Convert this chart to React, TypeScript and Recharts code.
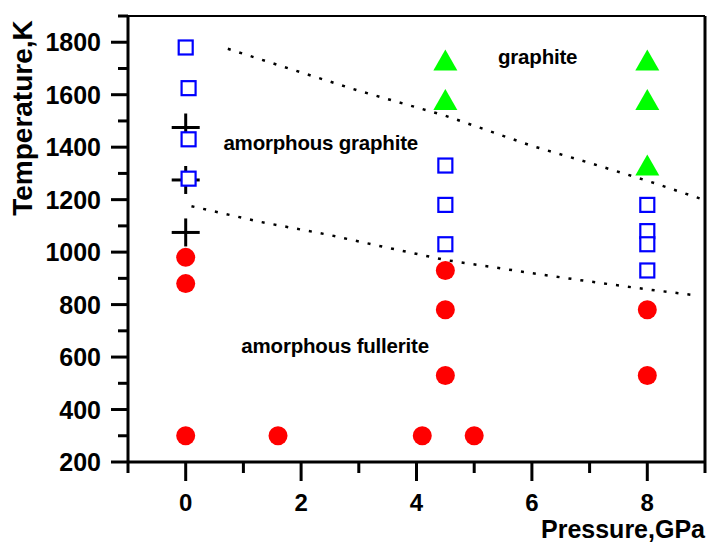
import { ScatterChart, Scatter, XAxis, YAxis, ReferenceLine } from "recharts";

// pressure (GPa), temperature (K)
const amorphousGraphite = [
  { p: 0, t: 1780 },
  { p: 0.05, t: 1625 },
  { p: 0.05, t: 1430 },
  { p: 0.05, t: 1280 },
  { p: 4.5, t: 1330 },
  { p: 4.5, t: 1180 },
  { p: 4.5, t: 1030 },
  { p: 8, t: 1180 },
  { p: 8, t: 1080 },
  { p: 8, t: 1030 },
  { p: 8, t: 930 },
];

const fullerite = [
  { p: 0, t: 980 },
  { p: 0, t: 880 },
  { p: 0, t: 300 },
  { p: 1.6, t: 300 },
  { p: 4.1, t: 300 },
  { p: 5, t: 300 },
  { p: 4.5, t: 930 },
  { p: 4.5, t: 780 },
  { p: 4.5, t: 530 },
  { p: 8, t: 780 },
  { p: 8, t: 530 },
];

const graphite = [
  { p: 4.5, t: 1730 },
  { p: 4.5, t: 1580 },
  { p: 8, t: 1730 },
  { p: 8, t: 1580 },
  { p: 8, t: 1330 },
];

const crosses = [
  { p: 0, t: 1475 },
  { p: 0, t: 1275 },
  { p: 0, t: 1075 },
];

const upperBoundary = [
  { p: 0.73, t: 1775 },
  { p: 2, t: 1685 },
  { p: 3, t: 1615 },
  { p: 4.5, t: 1520 },
  { p: 6, t: 1405 },
  { p: 7, t: 1340 },
  { p: 8, t: 1272 },
  { p: 9, t: 1198 },
];

const lowerBoundary = [
  { p: 0.1, t: 1175 },
  { p: 1.3, t: 1115 },
  { p: 2.5, t: 1065 },
  { p: 3.3, t: 1026 },
  { p: 4.5, t: 970 },
  { p: 6, t: 920 },
  { p: 7, t: 888 },
  { p: 8, t: 858 },
  { p: 8.85, t: 835 },
];

const annotations = [
  { p: 6.1, t: 1743, text: "graphite" },
  { p: 2.34, t: 1415, text: "amorphous graphite" },
  { p: 2.59, t: 642, text: "amorphous fullerite" },
];

const xTicks = [-1, 0, 1, 2, 3, 4, 5, 6, 7, 8, 9];
const yTicks = [200, 300, 400, 500, 600, 700, 800, 900, 1000, 1100, 1200, 1300, 1400, 1500, 1600, 1700, 1800, 1900];

const font = "'Liberation Sans', Arial, sans-serif";

const YTick = (props: any) => {
  const { x, y, payload } = props;
  const major = payload.value % 200 === 0 && payload.value <= 1800;
  const len = major ? 17 : 10;
  return (
    <g>
      <line x1={x} x2={x - len} y1={y} y2={y} stroke="#000" strokeWidth={3} />
      {major && (
        <text x={x - 27} y={y} dy="0.36em" textAnchor="end" fontFamily={font} fontWeight="bold" fontSize={25} fill="#000">
          {payload.value}
        </text>
      )}
    </g>
  );
};

const XTick = (props: any) => {
  const { x, y, payload } = props;
  const major = payload.value % 2 === 0;
  const len = major ? 19 : 11;
  return (
    <g>
      <line x1={x} x2={x} y1={y} y2={y + len} stroke="#000" strokeWidth={3} />
      {major && (
        <text x={x} y={y + 49} textAnchor="middle" fontFamily={font} fontWeight="bold" fontSize={24} fill="#000">
          {payload.value}
        </text>
      )}
    </g>
  );
};

const Square = (props: any) => (
  <rect x={props.cx - 7} y={props.cy - 7} width={14} height={14} fill="#fff" stroke="#0000ff" strokeWidth={2.2} />
);

const Dot = (props: any) => <circle cx={props.cx} cy={props.cy} r={9.5} fill="#ff0000" />;

const Triangle = (props: any) => {
  const { cx, cy } = props;
  return <polygon points={`${cx},${cy - 11} ${cx + 12},${cy + 10} ${cx - 12},${cy + 10}`} fill="#00ff00" />;
};

const Cross = (props: any) => {
  const { cx, cy } = props;
  return (
    <g stroke="#000" strokeWidth={3}>
      <line x1={cx - 14} x2={cx + 14} y1={cy} y2={cy} />
      <line x1={cx} x2={cx} y1={cy - 14} y2={cy + 14} />
    </g>
  );
};

const Note = (props: any) => (
  <text x={props.cx} y={props.cy} dy="0.35em" textAnchor="middle" fontFamily={font} fontWeight="bold" fontSize={20.5} letterSpacing={-0.2} fill="#000">
    {props.payload.text}
  </text>
);

const NoShape = () => <g />;

export default function App() {
  return (
    <>
      <style>{"body{margin:0;overflow:hidden}"}</style>
      <ScatterChart width={708} height={544} margin={{ top: 16, right: 3, left: 0, bottom: 0 }}>
        <XAxis
          type="number"
          dataKey="p"
          domain={[-1, 9]}
          ticks={xTicks}
          interval={0}
          height={82}
          tickSize={0}
          tickMargin={0}
          tickLine={false}
          axisLine={{ stroke: "#000", strokeWidth: 3 }}
          tick={<XTick />}
          label={() => (
            <text x={705} y={538} textAnchor="end" fontFamily={font} fontWeight="bold" fontSize={25} fill="#000">
              Pressure,GPa
            </text>
          )}
        />
        <YAxis
          type="number"
          dataKey="t"
          domain={[200, 1900]}
          ticks={yTicks}
          interval={0}
          width={128}
          tickSize={0}
          tickMargin={0}
          tickLine={false}
          axisLine={{ stroke: "#000", strokeWidth: 3 }}
          tick={<YTick />}
          label={() => (
            <text x={22} y={118} transform="rotate(-90, 22, 118)" dy="0.35em" textAnchor="middle" fontFamily={font} fontWeight="bold" fontSize={28} fill="#000">
              Temperature,K
            </text>
          )}
        />
        <ReferenceLine y={1900} stroke="#000" strokeWidth={2} />
        <ReferenceLine x={9} stroke="#000" strokeWidth={3} />
        <Scatter data={upperBoundary} shape={<NoShape />} line={{ stroke: "#000", strokeWidth: 2.5, strokeDasharray: "3 9" }} isAnimationActive={false} />
        <Scatter data={lowerBoundary} shape={<NoShape />} line={{ stroke: "#000", strokeWidth: 2.5, strokeDasharray: "3 9" }} isAnimationActive={false} />
        <Scatter data={crosses} shape={<Cross />} isAnimationActive={false} />
        <Scatter data={amorphousGraphite} shape={<Square />} isAnimationActive={false} />
        <Scatter data={fullerite} shape={<Dot />} isAnimationActive={false} />
        <Scatter data={graphite} shape={<Triangle />} isAnimationActive={false} />
        <Scatter data={annotations} shape={<Note />} isAnimationActive={false} />
      </ScatterChart>
    </>
  );
}
